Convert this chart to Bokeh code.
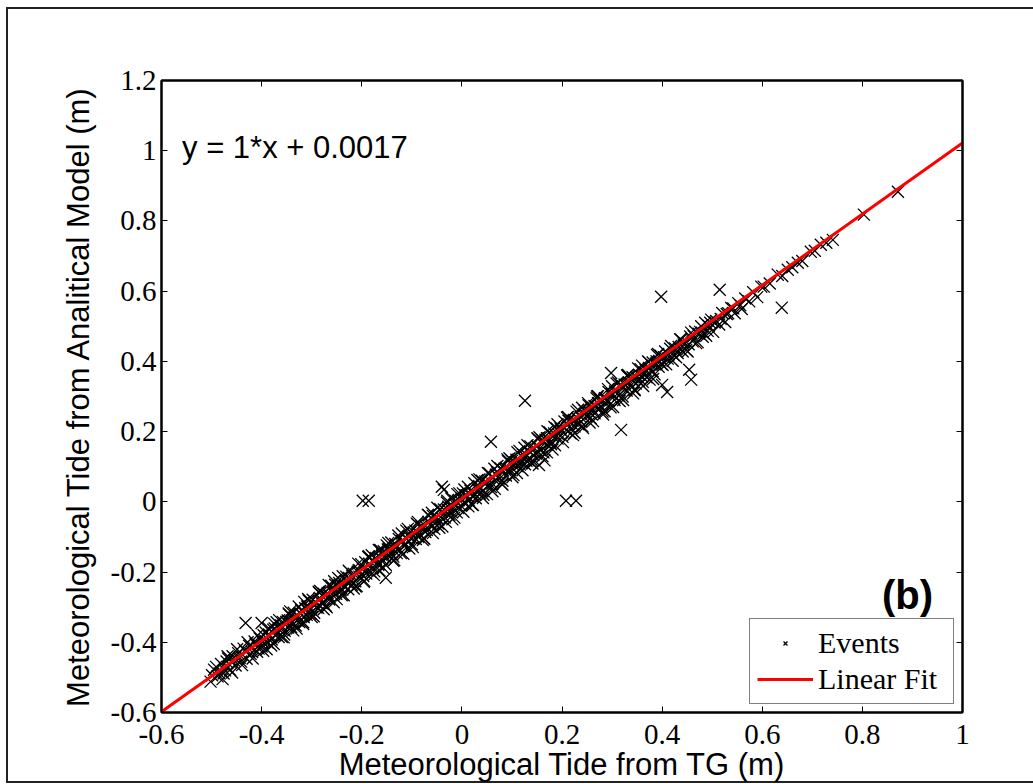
from bokeh.plotting import figure
from bokeh.models import Range1d, FixedTicker, LinearAxis, Label, Legend, LegendItem
from bokeh.embed import file_html
from bokeh.resources import INLINE

# ---------------- data ----------------
band_a = [(-0.502, -0.512), (-0.495, -0.478), (-0.488, -0.497), (-0.481, -0.462), (-0.476, -0.489),
          (-0.470, -0.455), (-0.463, -0.478), (-0.458, -0.440), (-0.452, -0.466), (-0.447, -0.431),
          (-0.441, -0.455), (-0.436, -0.418), (-0.430, -0.447), (-0.425, -0.410), (-0.419, -0.428),
          (-0.414, -0.398), (-0.409, -0.427), (-0.404, -0.389), (-0.400, -0.412), (-0.396, -0.380),
          (-0.499, -0.494), (-0.491, -0.470), (-0.484, -0.489), (-0.473, -0.480), (-0.467, -0.446),
          (-0.455, -0.452), (-0.444, -0.444), (-0.433, -0.424), (-0.422, -0.433), (-0.412, -0.405),
          (-0.406, -0.418), (-0.398, -0.399)]

band_b = [(-0.392, -0.372), (-0.388, -0.401), (-0.385, -0.378), (-0.381, -0.409), (-0.377, -0.364),
          (-0.373, -0.380), (-0.370, -0.343), (-0.366, -0.385), (-0.362, -0.361), (-0.358, -0.342),
          (-0.355, -0.378), (-0.351, -0.342), (-0.347, -0.358), (-0.343, -0.312), (-0.340, -0.344),
          (-0.336, -0.316), (-0.332, -0.352), (-0.328, -0.324), (-0.325, -0.342), (-0.321, -0.309),
          (-0.317, -0.343), (-0.313, -0.303), (-0.310, -0.322), (-0.306, -0.281), (-0.302, -0.307),
          (-0.298, -0.279), (-0.295, -0.316), (-0.291, -0.287), (-0.287, -0.302), (-0.283, -0.254),
          (-0.280, -0.289), (-0.276, -0.262), (-0.272, -0.296), (-0.268, -0.260), (-0.265, -0.278),
          (-0.261, -0.239), (-0.257, -0.259), (-0.253, -0.236), (-0.250, -0.277), (-0.246, -0.240),
          (-0.242, -0.252), (-0.238, -0.212), (-0.235, -0.241), (-0.231, -0.213), (-0.227, -0.249),
          (-0.223, -0.220), (-0.220, -0.236), (-0.216, -0.205), (-0.212, -0.241), (-0.208, -0.199),
          (-0.205, -0.213), (-0.201, -0.178),
          (-0.390, -0.420), (-0.375, -0.347), (-0.360, -0.385), (-0.345, -0.321), (-0.330, -0.361),
          (-0.315, -0.285), (-0.300, -0.328), (-0.285, -0.259), (-0.270, -0.300), (-0.255, -0.226),
          (-0.240, -0.266), (-0.225, -0.198), (-0.210, -0.240),
          (-0.394, -0.394), (-0.387, -0.381), (-0.380, -0.392), (-0.374, -0.361), (-0.367, -0.372),
          (-0.361, -0.352), (-0.354, -0.367), (-0.348, -0.338), (-0.341, -0.356), (-0.335, -0.330),
          (-0.329, -0.337), (-0.322, -0.318), (-0.316, -0.328), (-0.309, -0.298), (-0.303, -0.318),
          (-0.297, -0.290), (-0.290, -0.300), (-0.284, -0.274), (-0.277, -0.289), (-0.271, -0.266),
          (-0.264, -0.270), (-0.258, -0.247), (-0.251, -0.262), (-0.245, -0.231), (-0.239, -0.250),
          (-0.232, -0.226), (-0.226, -0.233), (-0.219, -0.211), (-0.213, -0.226), (-0.206, -0.195)]

band_c = [(-0.197, -0.211), (-0.193, -0.172), (-0.190, -0.195), (-0.186, -0.155), (-0.182, -0.200),
          (-0.178, -0.168), (-0.175, -0.198), (-0.171, -0.164), (-0.167, -0.179), (-0.163, -0.137),
          (-0.160, -0.163), (-0.156, -0.141), (-0.152, -0.180), (-0.148, -0.136), (-0.145, -0.153),
          (-0.141, -0.116), (-0.137, -0.156), (-0.133, -0.131), (-0.130, -0.146), (-0.126, -0.106),
          (-0.122, -0.146), (-0.118, -0.112), (-0.115, -0.126), (-0.111, -0.082), (-0.107, -0.111),
          (-0.103, -0.086), (-0.100, -0.121), (-0.096, -0.087), (-0.092, -0.106), (-0.088, -0.065),
          (-0.085, -0.091), (-0.081, -0.068), (-0.077, -0.104), (-0.073, -0.069), (-0.070, -0.080),
          (-0.066, -0.039), (-0.062, -0.063), (-0.058, -0.040), (-0.055, -0.077), (-0.051, -0.043),
          (-0.047, -0.062), (-0.043, -0.021), (-0.040, -0.047), (-0.036, -0.022), (-0.032, -0.057),
          (-0.028, -0.023), (-0.025, -0.037), (-0.021, 0.009), (-0.017, -0.019), (-0.013, 0.003),
          (-0.010, -0.030), (-0.006, 0.005), (-0.002, -0.011),
          (-0.195, -0.225), (-0.180, -0.152), (-0.165, -0.195), (-0.150, -0.124), (-0.135, -0.166),
          (-0.120, -0.090), (-0.105, -0.133), (-0.090, -0.062), (-0.075, -0.105), (-0.060, -0.031),
          (-0.045, -0.074), (-0.030, -0.002), (-0.015, -0.045), (-0.005, 0.024),
          (-0.198, -0.190), (-0.191, -0.204), (-0.185, -0.177), (-0.178, -0.187), (-0.172, -0.160),
          (-0.165, -0.177), (-0.159, -0.150), (-0.152, -0.158), (-0.146, -0.133), (-0.139, -0.150),
          (-0.133, -0.120), (-0.126, -0.134), (-0.120, -0.112), (-0.113, -0.124), (-0.106, -0.099),
          (-0.100, -0.103), (-0.093, -0.082), (-0.087, -0.100), (-0.080, -0.075), (-0.073, -0.086),
          (-0.067, -0.057), (-0.060, -0.071), (-0.053, -0.046), (-0.047, -0.050), (-0.040, -0.028),
          (-0.034, -0.045), (-0.027, -0.014), (-0.020, -0.030), (-0.014, -0.008), (-0.007, -0.018)]

band_d = [(0.002, 0.024), (0.006, -0.004), (0.010, 0.018), (0.013, -0.013), (0.017, 0.032),
          (0.021, 0.016), (0.025, 0.053), (0.028, 0.010), (0.032, 0.035), (0.036, 0.024),
          (0.040, 0.060), (0.043, 0.020), (0.047, 0.058), (0.051, 0.044), (0.055, 0.081),
          (0.058, 0.042), (0.062, 0.068), (0.066, 0.037), (0.070, 0.084), (0.073, 0.071),
          (0.077, 0.096), (0.081, 0.060), (0.085, 0.094), (0.088, 0.075), (0.092, 0.116),
          (0.096, 0.092), (0.100, 0.117), (0.103, 0.076), (0.107, 0.112), (0.111, 0.101),
          (0.115, 0.145), (0.118, 0.112), (0.122, 0.135), (0.126, 0.107), (0.130, 0.132),
          (0.133, 0.118), (0.137, 0.158), (0.141, 0.117), (0.145, 0.152), (0.148, 0.137),
          (0.152, 0.179), (0.156, 0.153), (0.160, 0.176), (0.163, 0.141), (0.167, 0.177),
          (0.171, 0.163), (0.175, 0.198), (0.178, 0.164), (0.182, 0.186), (0.186, 0.161),
          (0.190, 0.208), (0.193, 0.192), (0.197, 0.209),
          (0.005, 0.035), (0.020, -0.008), (0.035, 0.064), (0.050, 0.022), (0.065, 0.094),
          (0.080, 0.051), (0.095, 0.124), (0.110, 0.082), (0.125, 0.154), (0.140, 0.111),
          (0.155, 0.184), (0.170, 0.141), (0.185, 0.213),
          (0.000, 0.008), (0.007, 0.019), (0.014, 0.004), (0.020, 0.029), (0.027, 0.021),
          (0.034, 0.045), (0.041, 0.030), (0.048, 0.053), (0.054, 0.047), (0.061, 0.052),
          (0.068, 0.077), (0.075, 0.066), (0.082, 0.089), (0.088, 0.097), (0.095, 0.084),
          (0.102, 0.107), (0.109, 0.120), (0.116, 0.106), (0.122, 0.126), (0.129, 0.117),
          (0.136, 0.142), (0.143, 0.133), (0.150, 0.159), (0.157, 0.146), (0.163, 0.170),
          (0.170, 0.181), (0.177, 0.168), (0.184, 0.195), (0.191, 0.180), (0.198, 0.203)]

band_e = [(0.201, 0.185), (0.205, 0.229), (0.209, 0.205), (0.213, 0.231), (0.217, 0.195),
          (0.221, 0.231), (0.225, 0.215), (0.229, 0.257), (0.233, 0.221), (0.237, 0.242),
          (0.241, 0.215), (0.245, 0.260), (0.249, 0.244), (0.253, 0.275), (0.257, 0.239),
          (0.261, 0.263), (0.265, 0.252), (0.269, 0.295), (0.273, 0.266), (0.277, 0.290),
          (0.281, 0.257), (0.285, 0.293), (0.289, 0.279), (0.293, 0.313), (0.297, 0.269),
          (0.301, 0.305), (0.305, 0.290), (0.309, 0.337), (0.313, 0.311), (0.317, 0.334),
          (0.321, 0.300), (0.325, 0.334), (0.329, 0.317), (0.333, 0.356), (0.337, 0.331),
          (0.341, 0.355), (0.345, 0.320), (0.349, 0.355), (0.353, 0.344), (0.357, 0.378),
          (0.361, 0.342), (0.365, 0.368), (0.369, 0.355), (0.373, 0.398), (0.377, 0.373),
          (0.381, 0.397), (0.385, 0.363), (0.389, 0.400), (0.393, 0.385), (0.397, 0.416),
          (0.210, 0.240), (0.225, 0.196), (0.240, 0.268), (0.255, 0.226), (0.270, 0.300),
          (0.285, 0.258), (0.300, 0.329), (0.315, 0.287), (0.330, 0.360), (0.345, 0.318),
          (0.360, 0.388), (0.375, 0.348), (0.390, 0.418),
          (0.204, 0.210), (0.211, 0.221), (0.218, 0.210), (0.224, 0.233), (0.231, 0.238),
          (0.238, 0.228), (0.245, 0.250), (0.252, 0.259), (0.258, 0.251), (0.265, 0.273),
          (0.272, 0.281), (0.279, 0.270), (0.286, 0.295), (0.292, 0.289), (0.299, 0.308),
          (0.306, 0.314), (0.313, 0.303), (0.320, 0.327), (0.326, 0.321), (0.333, 0.340),
          (0.340, 0.348), (0.347, 0.337), (0.354, 0.362), (0.360, 0.357), (0.367, 0.376),
          (0.374, 0.381), (0.381, 0.372), (0.388, 0.394), (0.394, 0.401), (0.399, 0.392)]

band_f = [(0.401, 0.390), (0.406, 0.428), (0.411, 0.408), (0.416, 0.436), (0.421, 0.402),
          (0.426, 0.437), (0.431, 0.424), (0.436, 0.463), (0.441, 0.428), (0.446, 0.452),
          (0.451, 0.428), (0.456, 0.471), (0.461, 0.457), (0.466, 0.485), (0.471, 0.455),
          (0.476, 0.484), (0.481, 0.470), (0.486, 0.510), (0.491, 0.487), (0.496, 0.510),
          (0.502, 0.484), (0.508, 0.515), (0.514, 0.505), (0.520, 0.538), (0.526, 0.512),
          (0.532, 0.537), (0.538, 0.552), (0.545, 0.537), (0.552, 0.566), (0.559, 0.549),
          (0.566, 0.579), (0.574, 0.571), (0.582, 0.597), (0.590, 0.583), (0.598, 0.613),
          (0.404, 0.412), (0.413, 0.420), (0.423, 0.418), (0.433, 0.441), (0.443, 0.448),
          (0.453, 0.449), (0.463, 0.472), (0.473, 0.479), (0.483, 0.480), (0.493, 0.501),
          (0.505, 0.511), (0.517, 0.521), (0.529, 0.535), (0.542, 0.551), (0.556, 0.560)]

band_g = [(0.603, 0.613), (0.615, 0.622), (0.631, 0.647), (0.640, 0.643), (0.651, 0.661),
          (0.660, 0.668), (0.671, 0.681), (0.680, 0.686), (0.697, 0.712), (0.705, 0.715),
          (0.717, 0.732), (0.728, 0.738), (0.741, 0.746), (0.803, 0.818), (0.871, 0.883)]

band_edges = [(-0.478, -0.505), (-0.468, -0.440), (-0.459, -0.486), (-0.449, -0.420), (-0.439, -0.465),
              (-0.428, -0.400), (-0.418, -0.446), (-0.408, -0.380), (-0.397, -0.424), (-0.386, -0.360),
              (-0.376, -0.405), (-0.365, -0.337), (-0.356, -0.386), (-0.346, -0.318), (-0.337, -0.366),
              (-0.326, -0.298), (-0.317, -0.348), (-0.307, -0.277), (-0.296, -0.326), (-0.286, -0.256),
              (-0.276, -0.306), (-0.266, -0.237), (-0.256, -0.286), (-0.247, -0.217), (-0.236, -0.266),
              (-0.226, -0.196), (-0.216, -0.247), (-0.207, -0.176),
              (-0.196, -0.228), (-0.187, -0.157), (-0.176, -0.208), (-0.166, -0.137), (-0.157, -0.188),
              (-0.147, -0.117), (-0.137, -0.168), (-0.127, -0.096), (-0.117, -0.148), (-0.108, -0.077),
              (-0.098, -0.129), (-0.088, -0.057), (-0.078, -0.109), (-0.068, -0.037), (-0.058, -0.089),
              (-0.049, -0.017), (-0.039, -0.070), (-0.029, 0.003), (-0.019, -0.050), (-0.009, 0.022),
              (0.003, -0.028), (0.012, 0.043), (0.022, -0.009), (0.031, 0.062), (0.042, 0.011),
              (0.052, 0.082), (0.061, 0.030), (0.071, 0.102), (0.081, 0.049), (0.091, 0.121),
              (0.101, 0.070), (0.111, 0.141), (0.121, 0.090), (0.131, 0.161), (0.141, 0.109),
              (0.151, 0.181), (0.161, 0.130), (0.171, 0.201), (0.181, 0.149), (0.191, 0.221),
              (0.202, 0.170), (0.212, 0.242), (0.222, 0.190), (0.232, 0.262), (0.242, 0.210),
              (0.252, 0.281), (0.262, 0.230), (0.272, 0.301), (0.282, 0.249), (0.292, 0.321),
              (0.302, 0.270), (0.312, 0.340), (0.322, 0.290), (0.332, 0.361), (0.342, 0.309),
              (0.352, 0.380), (0.362, 0.330), (0.372, 0.400), (0.382, 0.350), (0.392, 0.421),
              (0.408, 0.392), (0.418, 0.444), (0.428, 0.412), (0.438, 0.462), (0.448, 0.432),
              (0.458, 0.482), (0.468, 0.452), (0.478, 0.500), (0.488, 0.473), (0.498, 0.519)]

outliers = [(0.398, 0.584), (0.515, 0.604), (0.639, 0.553), (0.454, 0.376), (0.458, 0.348),
            (0.400, 0.333), (0.410, 0.313), (0.318, 0.205), (0.126, 0.288), (0.058, 0.171),
            (-0.040, 0.043), (-0.036, 0.034), (-0.198, 0.003), (-0.186, 0.003), (0.208, 0.003),
            (0.228, 0.003), (0.154, 0.105), (0.165, 0.118), (-0.432, -0.345), (-0.400, -0.345),
            (-0.152, -0.216), (0.298, 0.367)]

fit_x = [-0.6, 1.0]
fit_y = [-0.598, 1.022]

x_ticks = [-0.6, -0.4, -0.2, 0, 0.2, 0.4, 0.6, 0.8, 1.0]
x_tick_labels = ["-0.6", "-0.4", "-0.2", "0", "0.2", "0.4", "0.6", "0.8", "1"]
y_ticks = [-0.6, -0.4, -0.2, 0, 0.2, 0.4, 0.6, 0.8, 1.0, 1.2]
y_tick_labels = ["-0.6", "-0.4", "-0.2", "0", "0.2", "0.4", "0.6", "0.8", "1", "1.2"]

x_title = "Meteorological Tide from TG (m)"
y_title = "Meteorological Tide from Analitical Model (m)"
equation_text = "y = 1*x + 0.0017"
panel_tag = "(b)"
legend_labels = ["Events", "Linear Fit"]

all_points = band_a + band_b + band_c + band_d + band_e + band_f + band_g + band_edges + outliers
events_x = [pt[0] for pt in all_points]
events_y = [pt[1] for pt in all_points]

# ---------------- figure ----------------
p = figure(width=1033, height=784, x_range=Range1d(-0.6, 1.0), y_range=Range1d(-0.6, 1.2),
           output_backend="svg", toolbar_location=None,
           x_axis_location=None, y_axis_location=None,
           min_border_left=161, min_border_right=71, min_border_top=80, min_border_bottom=72)
# outer page frame (left, top and bottom edges) painted behind a transparent canvas border
p.styles = {
    "background-color": "white",
    "background-image": "linear-gradient(#222, #222), linear-gradient(#222, #222), linear-gradient(#222, #222)",
    "background-size": "2px 776px, 1030px 2px, 1030px 2px",
    "background-position": "6px 7px, 6px 7px, 6px 781px",
    "background-repeat": "no-repeat",
}
p.border_fill_color = None
p.xgrid.visible = False
p.ygrid.visible = False
p.outline_line_color = "black"
p.outline_line_width = 2
p.background_fill_color = "white"


def make_axis(ticks, labels, show, standoff):
    ax = LinearAxis(ticker=FixedTicker(ticks=ticks),
                    major_label_overrides={t: l for t, l in zip(ticks, labels)})
    ax.axis_line_color = "black"
    ax.axis_line_width = 2
    ax.major_tick_in = 6
    ax.major_tick_out = 0
    ax.major_tick_line_color = "black"
    ax.major_tick_line_width = 1
    ax.minor_tick_line_color = None
    ax.major_label_text_font = "Liberation Serif"
    ax.major_label_text_color = "black"
    ax.major_label_text_font_size = "29px" if show else "0px"
    ax.major_label_text_line_height = 1.0
    ax.major_label_standoff = standoff
    ax.axis_label_text_font = "Liberation Sans"
    ax.axis_label_text_font_style = "normal"
    ax.axis_label_text_color = "black"
    ax.axis_label_text_line_height = 1.0
    return ax


ax_below = make_axis(x_ticks, x_tick_labels, True, 12)
ax_below.axis_label = x_title
ax_below.axis_label_text_font_size = "31px"
ax_below.axis_label_standoff = 0
p.add_layout(ax_below, "below")

ax_left = make_axis(y_ticks, y_tick_labels, True, 5)
ax_left.axis_label = y_title
ax_left.axis_label_text_font_size = "31px"
ax_left.axis_label_standoff = 12
p.add_layout(ax_left, "left")

p.add_layout(make_axis(x_ticks, x_tick_labels, False, 0), "above")
p.add_layout(make_axis(y_ticks, y_tick_labels, False, 0), "right")

r_events = p.scatter(events_x, events_y, marker="x", size=17, line_color="black", line_width=1.3)
r_fit = p.line(fit_x, fit_y, line_color="red", line_width=3)

legend = Legend(items=[LegendItem(label=legend_labels[0], renderers=[r_events]),
                       LegendItem(label=legend_labels[1], renderers=[r_fit])],
                location="bottom_right", margin=8, padding=7, spacing=2,
                glyph_width=56, glyph_height=14, label_standoff=5, label_width=128,
                label_text_font="Liberation Serif", label_text_font_size="30px",
                label_text_color="black",
                border_line_color="black", border_line_width=1,
                background_fill_color="white", background_fill_alpha=1)
p.add_layout(legend)

p.add_layout(Label(x=-0.559, y=1.008, text=equation_text, text_font="Liberation Sans",
                   text_font_size="31px", text_align="left", text_baseline="alphabetic",
                   text_color="black"))
p.add_layout(Label(x=0.941, y=-0.265, text=panel_tag, text_font="Liberation Sans",
                   text_font_size="40px", text_font_style="bold", text_align="right",
                   text_baseline="alphabetic", text_color="black"))

open("out.html", "w").write(file_html(p, INLINE))
